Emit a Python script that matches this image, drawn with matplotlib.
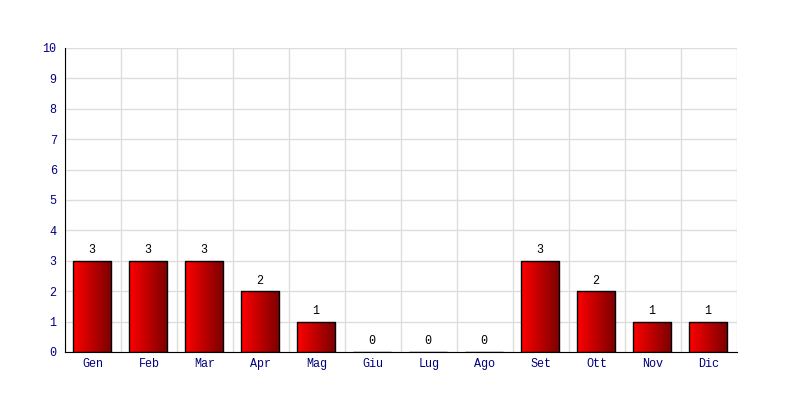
import matplotlib.pyplot as plt
import numpy as np

months = ["Gen", "Feb", "Mar", "Apr", "Mag", "Giu", "Lug", "Ago", "Set", "Ott", "Nov", "Dic"]
counts = [3, 3, 3, 2, 1, 0, 0, 0, 3, 2, 1, 1]
yticks = list(range(0, 11))

plt.rcParams["font.family"] = ["Liberation Mono", "DejaVu Sans Mono"]

fig = plt.figure(figsize=(8, 4), dpi=100)
ax = fig.add_axes([65 / 800, 48 / 400, 672 / 800, 304 / 400])

x = np.arange(len(months))
width = 0.68

# red -> dark red horizontal gradient
grad = np.linspace(0, 1, 256).reshape(1, -1)
cmap = plt.matplotlib.colors.LinearSegmentedColormap.from_list("rd", ["#ff0000", "#7a0000"])

bars = ax.bar(x - 0.02, counts, width=width, color="none", edgecolor="black", linewidth=1, zorder=3)
for b, v in zip(bars, counts):
    if v > 0:
        im = ax.imshow(grad, cmap=cmap, aspect="auto", zorder=2,
                       extent=[b.get_x(), b.get_x() + b.get_width(), 0, v])
        im.set_clip_path(b)
    ax.text(b.get_x() + b.get_width() / 2, v + 0.15, str(v), ha="center", va="bottom",
            fontsize=8.5, color="black")

ax.set_xlim(-0.5, len(months) - 0.5)
ax.set_ylim(0, 10)
ax.set_yticks(yticks)
ax.set_xticks(x)
ax.set_xticklabels(months)
ax.set_xticks(np.arange(-0.5, len(months)), minor=True)
ax.tick_params(axis="both", which="both", length=0, colors="#000080", labelsize=8.5)
ax.tick_params(axis="x", pad=4)
ax.tick_params(axis="y", pad=6)
ax.grid(True, axis="y", color="#dddddd", linewidth=1, zorder=0)
ax.grid(True, axis="x", which="minor", color="#dddddd", linewidth=1, zorder=0)
ax.grid(False, axis="x", which="major")
ax.set_axisbelow(True)

for s in ["top", "right"]:
    ax.spines[s].set_visible(False)
ax.spines["left"].set_color("black")
ax.spines["bottom"].set_color("black")

fig.savefig("out.png", dpi=100)
